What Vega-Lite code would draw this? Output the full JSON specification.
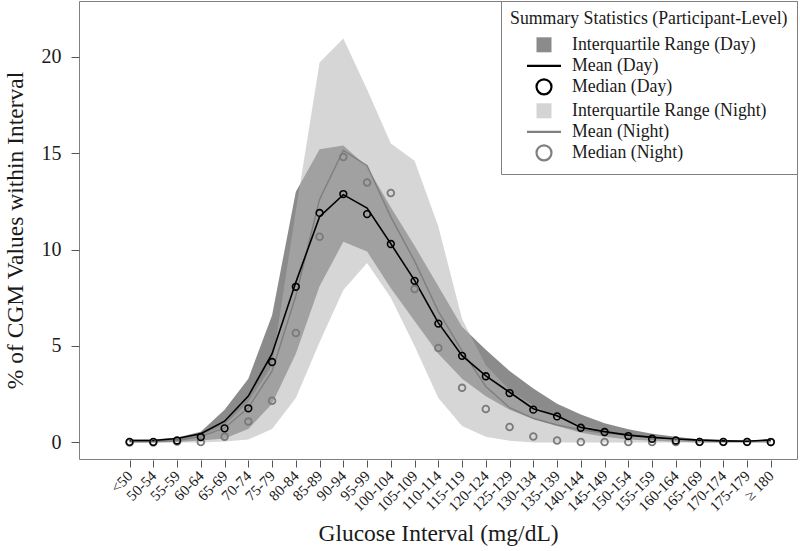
{
  "$schema": "https://vega.github.io/schema/vega-lite/v6.json",
  "width": 718,
  "height": 458,
  "autosize": {"type": "none"},
  "padding": {"left": 79, "top": 1, "right": 3, "bottom": 92},
  "background": "white",
  "data": {
    "values": [
      {"interval": "<50", "dq1": 0, "dq3": 0.15, "dmean": 0.1, "dmed": 0.03, "nq1": 0, "nq3": 0.05, "nmean": 0.05, "nmed": 0.0},
      {"interval": "50-54", "dq1": 0, "dq3": 0.15, "dmean": 0.1, "dmed": 0.03, "nq1": 0, "nq3": 0.05, "nmean": 0.05, "nmed": 0.0},
      {"interval": "55-59", "dq1": 0.02, "dq3": 0.25, "dmean": 0.2, "dmed": 0.1, "nq1": 0, "nq3": 0.1, "nmean": 0.1, "nmed": 0.05},
      {"interval": "60-64", "dq1": 0.1, "dq3": 0.55, "dmean": 0.45, "dmed": 0.28, "nq1": 0, "nq3": 0.35, "nmean": 0.3, "nmed": 0.02},
      {"interval": "65-69", "dq1": 0.2, "dq3": 1.7, "dmean": 1.1, "dmed": 0.73, "nq1": 0.05, "nq3": 0.9, "nmean": 0.75, "nmed": 0.3},
      {"interval": "70-74", "dq1": 0.7, "dq3": 3.3, "dmean": 2.4, "dmed": 1.77, "nq1": 0.15, "nq3": 2.1, "nmean": 1.8, "nmed": 1.08},
      {"interval": "75-79", "dq1": 2.0, "dq3": 6.6, "dmean": 4.6, "dmed": 4.17, "nq1": 0.7, "nq3": 4.0, "nmean": 3.7, "nmed": 2.16},
      {"interval": "80-84", "dq1": 4.6, "dq3": 13.0, "dmean": 8.3, "dmed": 8.07, "nq1": 2.3, "nq3": 12.0, "nmean": 7.6, "nmed": 5.67},
      {"interval": "85-89", "dq1": 8.1, "dq3": 15.2, "dmean": 11.7, "dmed": 11.9, "nq1": 5.2, "nq3": 19.7, "nmean": 12.6, "nmed": 10.67},
      {"interval": "90-94", "dq1": 10.4, "dq3": 15.4, "dmean": 12.85, "dmed": 12.88, "nq1": 7.9, "nq3": 20.95, "nmean": 15.15, "nmed": 14.8},
      {"interval": "95-99", "dq1": 9.9, "dq3": 14.3, "dmean": 12.15, "dmed": 11.84, "nq1": 9.3, "nq3": 18.3, "nmean": 14.35, "nmed": 13.48},
      {"interval": "100-104", "dq1": 8.0, "dq3": 12.2, "dmean": 10.3, "dmed": 10.29, "nq1": 7.5, "nq3": 15.5, "nmean": 11.7, "nmed": 12.93},
      {"interval": "105-109", "dq1": 6.3, "dq3": 10.2, "dmean": 8.4, "dmed": 8.38, "nq1": 5.0, "nq3": 14.6, "nmean": 9.4, "nmed": 7.95},
      {"interval": "110-114", "dq1": 4.6, "dq3": 8.1, "dmean": 6.2, "dmed": 6.16, "nq1": 2.3, "nq3": 11.2, "nmean": 6.8, "nmed": 4.9},
      {"interval": "115-119", "dq1": 3.3, "dq3": 6.0, "dmean": 4.5, "dmed": 4.49, "nq1": 0.85, "nq3": 6.4, "nmean": 4.75, "nmed": 2.83},
      {"interval": "120-124", "dq1": 2.4, "dq3": 4.8, "dmean": 3.45, "dmed": 3.43, "nq1": 0.3, "nq3": 4.0, "nmean": 2.9, "nmed": 1.73},
      {"interval": "125-129", "dq1": 1.7, "dq3": 3.7, "dmean": 2.6, "dmed": 2.56, "nq1": 0.08, "nq3": 2.7, "nmean": 1.8, "nmed": 0.8},
      {"interval": "130-134", "dq1": 1.2, "dq3": 2.8, "dmean": 1.75, "dmed": 1.7, "nq1": 0, "nq3": 1.9, "nmean": 1.25, "nmed": 0.31},
      {"interval": "135-139", "dq1": 0.85, "dq3": 2.0, "dmean": 1.38, "dmed": 1.35, "nq1": 0, "nq3": 1.3, "nmean": 0.9, "nmed": 0.1},
      {"interval": "140-144", "dq1": 0.5, "dq3": 1.45, "dmean": 0.78, "dmed": 0.76, "nq1": 0, "nq3": 0.9, "nmean": 0.66, "nmed": 0.02},
      {"interval": "145-149", "dq1": 0.3, "dq3": 1.0, "dmean": 0.56, "dmed": 0.54, "nq1": 0, "nq3": 0.6, "nmean": 0.49, "nmed": 0.02},
      {"interval": "150-154", "dq1": 0.15, "dq3": 0.68, "dmean": 0.38, "dmed": 0.33, "nq1": 0, "nq3": 0.4, "nmean": 0.38, "nmed": 0.02},
      {"interval": "155-159", "dq1": 0.08, "dq3": 0.45, "dmean": 0.26, "dmed": 0.19, "nq1": 0, "nq3": 0.25, "nmean": 0.28, "nmed": 0.02},
      {"interval": "160-164", "dq1": 0.03, "dq3": 0.3, "dmean": 0.18, "dmed": 0.1, "nq1": 0, "nq3": 0.15, "nmean": 0.2, "nmed": 0.02},
      {"interval": "165-169", "dq1": 0, "dq3": 0.15, "dmean": 0.12, "dmed": 0.03, "nq1": 0, "nq3": 0.08, "nmean": 0.12, "nmed": 0.02},
      {"interval": "170-174", "dq1": 0, "dq3": 0.1, "dmean": 0.08, "dmed": 0.03, "nq1": 0, "nq3": 0.05, "nmean": 0.08, "nmed": 0.02},
      {"interval": "175-179", "dq1": 0, "dq3": 0.1, "dmean": 0.06, "dmed": 0.03, "nq1": 0, "nq3": 0.05, "nmean": 0.06, "nmed": 0.02},
      {"interval": "≥ 180", "dq1": 0, "dq3": 0.15, "dmean": 0.13, "dmed": 0.02, "nq1": 0, "nq3": 0.1, "nmean": 0.1, "nmed": 0.02}
    ]
  },
  "encoding": {
    "x": {
      "field": "interval",
      "type": "ordinal",
      "sort": null,
      "scale": {"type": "point", "range": [38.7, 703.7]},
      "title": "Glucose Interval (mg/dL)"
    }
  },
  "layer": [
    {
      "mark": {"type": "area", "color": "#8b8b8b", "opacity": 1},
      "encoding": {
        "y": {"field": "dq1", "type": "quantitative", "scale": {"domain": [-0.86, 22.89], "nice": false, "zero": false}, "axis": {"values": [0, 5, 10, 15, 20]}, "title": "% of CGM Values within Interval"},
        "y2": {"field": "dq3"}
      }
    },
    {
      "mark": {"type": "area", "color": "#b4b4b4", "opacity": 0.55},
      "encoding": {
        "y": {"field": "nq1", "type": "quantitative", "scale": {"domain": [-0.86, 22.89], "nice": false, "zero": false}, "axis": {"values": [0, 5, 10, 15, 20]}, "title": "% of CGM Values within Interval"},
        "y2": {"field": "nq3"}
      }
    },
    {
      "mark": {"type": "line", "color": "#808080", "strokeWidth": 1.5},
      "encoding": {
        "y": {"field": "nmean", "type": "quantitative", "scale": {"domain": [-0.86, 22.89], "nice": false, "zero": false}, "axis": {"values": [0, 5, 10, 15, 20]}, "title": "% of CGM Values within Interval"}
      }
    },
    {
      "mark": {"type": "line", "color": "#000000", "strokeWidth": 1.6},
      "encoding": {
        "y": {"field": "dmean", "type": "quantitative", "scale": {"domain": [-0.86, 22.89], "nice": false, "zero": false}, "axis": {"values": [0, 5, 10, 15, 20]}, "title": "% of CGM Values within Interval"}
      }
    },
    {
      "mark": {"type": "point", "shape": "circle", "filled": false, "color": "#7a7a7a", "size": 45, "strokeWidth": 1.8, "opacity": 1},
      "encoding": {
        "y": {"field": "nmed", "type": "quantitative", "scale": {"domain": [-0.86, 22.89], "nice": false, "zero": false}, "axis": {"values": [0, 5, 10, 15, 20]}, "title": "% of CGM Values within Interval"}
      }
    },
    {
      "mark": {"type": "point", "shape": "circle", "filled": false, "color": "#000000", "size": 45, "strokeWidth": 1.6, "opacity": 1},
      "encoding": {
        "y": {"field": "dmed", "type": "quantitative", "scale": {"domain": [-0.86, 22.89], "nice": false, "zero": false}, "axis": {"values": [0, 5, 10, 15, 20]}, "title": "% of CGM Values within Interval"}
      }
    },
    {
      "data": {
        "values": [
          {"stat": "Interquartile Range (Day)"},
          {"stat": "Mean (Day)"},
          {"stat": "Median (Day)"},
          {"stat": "Interquartile Range (Night)"},
          {"stat": "Mean (Night)"},
          {"stat": "Median (Night)"}
        ]
      },
      "transform": [{"filter": "false"}],
      "mark": {"type": "point", "filled": true},
      "encoding": {
        "x": {"field": "interval", "type": "ordinal", "sort": null},
        "shape": {
          "field": "stat",
          "type": "nominal",
          "scale": {
            "domain": ["Interquartile Range (Day)", "Mean (Day)", "Median (Day)", "Interquartile Range (Night)", "Mean (Night)", "Median (Night)"],
            "range": ["square", "M-2.27,0L2.27,0", "circle", "square", "M-2.27,0L2.27,0", "circle"]
          },
          "legend": {
            "title": "Summary Statistics (Participant-Level)",
            "orient": "top-right",
            "offset": 0,
            "padding": 9,
            "strokeColor": "#808080",
            "fillColor": "white",
            "titleFont": "Liberation Serif",
            "titleFontSize": 17.8,
            "titleFontWeight": "normal",
            "titleColor": "#1a1a1a",
            "titlePadding": 8,
            "titleLimit": 500,
            "labelFont": "Liberation Serif",
            "labelFontSize": 17.8,
            "labelColor": "#1a1a1a",
            "labelLimit": 0,
            "symbolSize": 225,
            "symbolStrokeWidth": 2.2,
            "symbolOpacity": 1,
            "symbolOffset": 25,
            "labelOffset": 19,
            "rowPadding": 0
          }
        },
        "fill": {
          "field": "stat",
          "type": "nominal",
          "scale": {
            "domain": ["Interquartile Range (Day)", "Mean (Day)", "Median (Day)", "Interquartile Range (Night)", "Mean (Night)", "Median (Night)"],
            "range": ["#8b8b8b", "transparent", "transparent", "#d4d4d4", "transparent", "transparent"]
          },
          "legend": {"title": "Summary Statistics (Participant-Level)"}
        },
        "stroke": {
          "field": "stat",
          "type": "nominal",
          "scale": {
            "domain": ["Interquartile Range (Day)", "Mean (Day)", "Median (Day)", "Interquartile Range (Night)", "Mean (Night)", "Median (Night)"],
            "range": ["transparent", "#000000", "#000000", "transparent", "#808080", "#808080"]
          },
          "legend": {"title": "Summary Statistics (Participant-Level)"}
        }
      }
    }
  ],
  "config": {
    "view": {"stroke": "#808080", "strokeWidth": 1},
    "font": "Liberation Serif",
    "axis": {
      "grid": false,
      "domain": false,
      "ticks": true,
      "tickColor": "#555555",
      "tickWidth": 1,
      "labelFont": "Liberation Serif",
      "labelColor": "#1a1a1a",
      "titleFont": "Liberation Serif",
      "titleFontWeight": "normal",
      "titleColor": "#1a1a1a",
      "titleFontSize": 23.5
    },
    "axisY": {
      "tickSize": 8,
      "labelFontSize": 20,
      "labelPadding": 10,
      "titlePadding": 14
    },
    "axisX": {
      "tickSize": 7,
      "offset": 1,
      "labelAngle": -45,
      "labelAlign": "right",
      "labelBaseline": "middle",
      "labelFontSize": 15,
      "labelPadding": 6,
      "titlePadding": 7,
      "titleX": 359
    }
  }
}
